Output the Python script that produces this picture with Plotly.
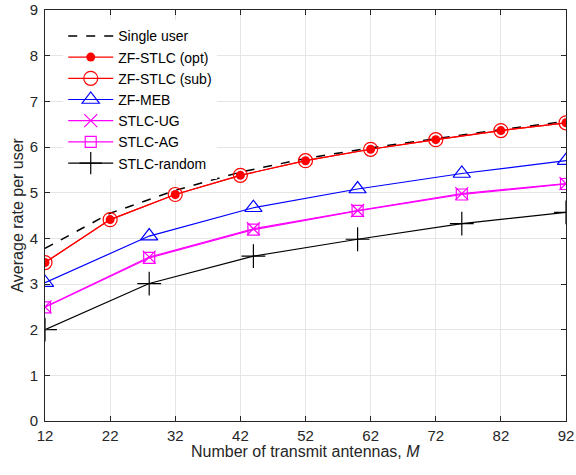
import plotly.graph_objects as go

M_full = [12, 22, 32, 42, 52, 62, 72, 82, 92]
single_user = [3.78, 4.55, 5.05, 5.45, 5.75, 5.98, 6.18, 6.38, 6.56]
zf_opt = [3.47, 4.41, 4.96, 5.38, 5.70, 5.95, 6.16, 6.36, 6.53]
zf_sub = [3.47, 4.41, 4.96, 5.38, 5.70, 5.95, 6.16, 6.36, 6.53]

M_sparse = [12, 28, 44, 60, 76, 92]
zf_meb = [3.03, 4.05, 4.67, 5.08, 5.42, 5.70]
stlc_ug = [2.50, 3.59, 4.21, 4.61, 4.98, 5.20]
stlc_ag = [2.49, 3.57, 4.19, 4.60, 4.96, 5.19]
stlc_random = [2.00, 3.01, 3.61, 3.98, 4.32, 4.57]

x_ticks = [12, 22, 32, 42, 52, 62, 72, 82, 92]
y_ticks = [0, 1, 2, 3, 4, 5, 6, 7, 8, 9]

FONT = "Liberation Sans, Arial, sans-serif"

fig = go.Figure()
fig.add_trace(go.Scatter(x=M_full, y=single_user, mode="lines", name="Single user",
                         line=dict(color="black", width=1.5, dash="dash")))
fig.add_trace(go.Scatter(x=M_full, y=zf_opt, mode="lines+markers", name="ZF-STLC (opt)",
                         line=dict(color="#ff0000", width=1.2),
                         marker=dict(symbol="circle", size=9, color="#ff0000")))
fig.add_trace(go.Scatter(x=M_full, y=zf_sub, mode="lines+markers", name="ZF-STLC (sub)",
                         line=dict(color="#ff0000", width=1.2),
                         marker=dict(symbol="circle-open", size=14, color="#ff0000", line=dict(width=1.2))))
fig.add_trace(go.Scatter(x=M_sparse, y=zf_meb, mode="lines+markers", name="ZF-MEB",
                         line=dict(color="#0000ff", width=1.2),
                         marker=dict(symbol="triangle-up-open", size=15, color="#0000ff", line=dict(width=1.2))))
fig.add_trace(go.Scatter(x=M_sparse, y=stlc_ug, mode="lines+markers", name="STLC-UG",
                         line=dict(color="#ff00ff", width=1.2),
                         marker=dict(symbol="x-thin-open", size=13, color="#ff00ff", line=dict(width=1.2, color="#ff00ff"))))
fig.add_trace(go.Scatter(x=M_sparse, y=stlc_ag, mode="lines+markers", name="STLC-AG",
                         line=dict(color="#ff00ff", width=1.2),
                         marker=dict(symbol="square-open", size=11, color="#ff00ff", line=dict(width=1.2))))
fig.add_trace(go.Scatter(x=M_sparse, y=stlc_random, mode="lines+markers", name="STLC-random",
                         line=dict(color="black", width=1.2),
                         marker=dict(symbol="cross-thin-open", size=17, color="black", line=dict(width=1.2, color="black"))))

axis_common = dict(showgrid=True, gridcolor="#e5e5e5", gridwidth=1, showline=True, linecolor="#262626",
                   linewidth=1, mirror="ticks", ticks="inside", ticklen=5, tickcolor="#262626",
                   tickfont=dict(family=FONT, size=15, color="#262626"),
                   zeroline=False, automargin=False)

fig.update_layout(
    width=576, height=475,
    margin=dict(l=45, r=10, t=10, b=54),
    paper_bgcolor="white", plot_bgcolor="white",
    font=dict(family=FONT, color="#262626"),
    legend=dict(x=0.035, y=0.975, xanchor="left", yanchor="top", bgcolor="white",
                borderwidth=0, font=dict(size=14, color="black"), itemwidth=45,
                tracegroupgap=0),
    xaxis=dict(range=[12, 92], tickvals=x_ticks, ticklabelstandoff=1, **axis_common),
    yaxis=dict(range=[0, 9], tickvals=y_ticks, ticklabelstandoff=3, **axis_common),
    annotations=[
        dict(text="Number of transmit antennas, <i>M</i>", xref="paper", yref="paper",
             x=0.5, y=-0.0754, xanchor="center", yanchor="middle", showarrow=False,
             font=dict(family=FONT, size=16, color="#262626")),
        dict(text="Average rate per user", xref="paper", yref="paper",
             x=-0.0537, y=0.5, xanchor="center", yanchor="middle", showarrow=False, textangle=-90,
             font=dict(family=FONT, size=16, color="#262626")),
    ],
)

fig.write_html("out.html", config={"displayModeBar": False},
               post_script="document.body.style.margin='0';document.body.style.overflow='hidden';")
